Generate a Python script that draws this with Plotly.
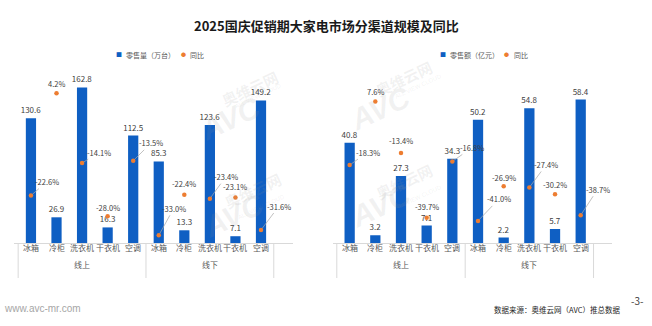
import plotly.graph_objects as go

# ---- data ----
title_text = "2025国庆促销期大家电市场分渠道规模及同比"
channel_names = ["线上", "线下"]
categories = ["冰箱", "冷柜", "洗衣机", "干衣机", "空调"]
volume_name = "零售量（万台）"
sales_name = "零售额（亿元）"
yoy_name = "同比"
volume = [130.6, 26.9, 162.8, 16.3, 112.5, 85.3, 13.3, 123.6, 7.1, 149.2]
volume_yoy = [-22.6, 4.2, -14.1, -28.0, -13.5, -33.0, -22.4, -23.4, -23.1, -31.6]
sales = [40.8, 3.2, 27.3, 7.1, 34.3, 50.2, 2.2, 54.8, 5.7, 58.4]
sales_yoy = [-18.3, 7.6, -13.4, -39.7, -16.8, -41.0, -26.9, -27.4, -30.2, -38.7]
source_text = "数据来源：奥维云网（AVC）推总数据"
site_text = "www.avc-mr.com"
page_text = "-3-"

# ---- styling ----
W, H = 652, 326
BAR = "#0F5FC3"
DOT = "#ED7D31"
TXT = "#404040"
AXC = "#595959"
GRID = "#D9D9D9"
FONT = "Noto Sans CJK SC, Microsoft YaHei, sans-serif"

def py(px):
    """pixel row -> paper y"""
    return 1 - px / H

# label offsets (px) for the yoy labels: (dx, dy, use leader line)
vol_label_off = [(16, -14, True), (0, -10, False), (17, -11, True), (0, -9, False),
                 (18, -18, True), (15, -27, True), (0, -11, False), (16, -22, True),
                 (0, -11, False), (18, -24, True)]
sal_label_off = [(18, -13, True), (0, -10, False), (0, -13, False), (0, -11, False),
                 (20, -14, True), (21, -22, True), (0, -9, False), (17, -23, True),
                 (0, -10, False), (17, -26, True)]

multi_x = [[c for c in channel_names for _ in categories], categories * len(channel_names)]

fig = go.Figure()

panels = [
    dict(vals=volume, yoy=volume_yoy, xa="x", ya="y", ya2="y2", offs=vol_label_off),
    dict(vals=sales, yoy=sales_yoy, xa="x2", ya="y3", ya2="y4", offs=sal_label_off),
]

for p in panels:
    fig.add_trace(go.Bar(
        x=multi_x, y=p["vals"], xaxis=p["xa"], yaxis=p["ya"],
        marker=dict(color=BAR, line=dict(width=0)), width=0.4,
        text=[f"{v:.1f}" for v in p["vals"]], textposition="outside",
        constraintext="none",
        textfont=dict(size=8, color=TXT, family=FONT), cliponaxis=False,
        showlegend=False,
    ))
    fig.add_trace(go.Scatter(
        x=multi_x, y=p["yoy"], xaxis=p["xa"], yaxis=p["ya2"], mode="markers",
        marker=dict(color=DOT, size=4.5), cliponaxis=False, showlegend=False,
    ))

annotations = []
shapes = []
for p in panels:
    for i, (v, (dx, dy, leader)) in enumerate(zip(p["yoy"], p["offs"])):
        annotations.append(dict(
            x=i, y=v, xref=p["xa"], yref=p["ya2"], text=f"{v:.1f}%",
            showarrow=True, arrowhead=0, arrowwidth=0.7,
            arrowcolor="#A6A6A6" if leader else "rgba(0,0,0,0)",
            ax=dx, ay=dy, standoff=2,
            font=dict(size=7.5, color=TXT, family=FONT),
        ))
    # two-level category axis: product row, channel row, group dividers
    n = len(categories)
    for i, cat in enumerate(multi_x[1]):
        annotations.append(dict(x=i, y=py(255), xref=p["xa"], yref="paper", text=cat,
                                showarrow=False, font=dict(size=8, color=AXC, family=FONT)))
    for g, ch in enumerate(channel_names):
        annotations.append(dict(x=g * n + (n - 1) / 2, y=py(272), xref=p["xa"], yref="paper",
                                text=ch, showarrow=False,
                                font=dict(size=8, color=AXC, family=FONT)))
    for g in range(len(channel_names) + 1):
        shapes.append(dict(type="line", xref=p["xa"], yref="paper",
                           x0=g * n - 0.5, x1=g * n - 0.5, y0=py(243), y1=py(278),
                           line=dict(color=GRID, width=1)))

# faint brand watermarks
def watermark(cx, cy):
    col = "rgba(150,150,150,0.13)"
    annotations.append(dict(x=cx / W, y=py(cy), xref="paper", yref="paper",
                            text="<b><i>AVC</i></b>", showarrow=False, textangle=-25,
                            font=dict(size=30, color=col, family="Arial, sans-serif")))
    annotations.append(dict(x=(cx + 58) / W, y=py(cy - 24), xref="paper", yref="paper",
                            text="<b>奥维云网</b>", showarrow=False, textangle=-25,
                            font=dict(size=15, color=col, family=FONT)))
    annotations.append(dict(x=(cx + 66) / W, y=py(cy - 8), xref="paper", yref="paper",
                            text="ALL VIEW CLOUD", showarrow=False, textangle=-25,
                            font=dict(size=6, color=col, family="Arial, sans-serif")))

watermark(192, 88)
watermark(195, 215)
watermark(380, 78)
watermark(380, 205)

# title
annotations.append(dict(x=0.5, y=py(14), xref="paper", yref="paper", text=f"<b>{title_text}</b>",
                        showarrow=False, font=dict(size=13, color="#1A1A1A", family=FONT)))

# legends
def legend(x0, name):
    y = py(48)
    annotations.append(dict(x=x0 / W, y=y, xref="paper", yref="paper", xanchor="center",
                            text="■", showarrow=False, font=dict(size=6, color=BAR, family=FONT)))
    annotations.append(dict(x=(x0 + 5) / W, y=y, xref="paper", yref="paper", xanchor="left",
                            text=name, showarrow=False, font=dict(size=7, color=AXC, family=FONT)))
    annotations.append(dict(x=(x0 + 64) / W, y=y, xref="paper", yref="paper", xanchor="center",
                            text="●", showarrow=False, font=dict(size=5, color=DOT, family=FONT)))
    annotations.append(dict(x=(x0 + 69) / W, y=y, xref="paper", yref="paper", xanchor="left",
                            text=yoy_name, showarrow=False, font=dict(size=7, color=AXC, family=FONT)))

legend(119, volume_name)
legend(443, sales_name)

# footer
annotations.append(dict(x=2 / W, y=py(316), xref="paper", yref="paper", xanchor="left",
                        text=site_text, showarrow=False,
                        font=dict(size=10, color="#A6A6A6", family="Arial, sans-serif")))
annotations.append(dict(x=622 / W, y=py(317), xref="paper", yref="paper", xanchor="right",
                        text=source_text, showarrow=False,
                        font=dict(size=7.5, color="#262626", family=FONT)))
annotations.append(dict(x=637 / W, y=py(310), xref="paper", yref="paper", xanchor="center",
                        text=page_text, showarrow=False,
                        font=dict(size=10, color="#404040", family=FONT)))

ydom = [py(243), py(71)]
xcommon = dict(type="multicategory", showline=True, linecolor=GRID, linewidth=1,
               showdividers=False, showticklabels=False,
               showgrid=False, zeroline=False, automargin=False, ticks="")
yhidden = dict(visible=False, showgrid=False, zeroline=False, fixedrange=True)

fig.update_layout(
    width=W, height=H, autosize=False,
    margin=dict(l=0, r=0, t=0, b=0),
    paper_bgcolor="white", plot_bgcolor="rgba(0,0,0,0)",
    xaxis=dict(domain=[14 / W, 293 / W], anchor="y", **xcommon),
    yaxis=dict(domain=ydom, range=[0, 180], anchor="x", **yhidden),
    yaxis2=dict(overlaying="y", range=[-35, 10], anchor="x", **yhidden),
    xaxis2=dict(domain=[332.7 / W, 611.7 / W], anchor="y3", **xcommon),
    yaxis3=dict(domain=ydom, range=[0, 70], anchor="x2", **yhidden),
    yaxis4=dict(overlaying="y3", range=[-50, 20], anchor="x2", **yhidden),
    annotations=annotations,
    shapes=shapes,
    showlegend=False,
)

fig.write_html("out.html", config={"displayModeBar": False})
